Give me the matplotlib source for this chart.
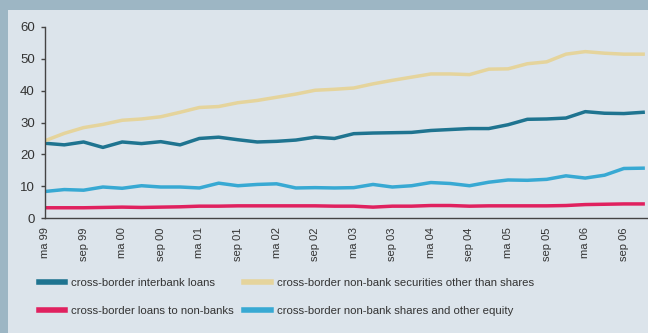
import numpy as np
import matplotlib.pyplot as plt
from matplotlib.patches import Rectangle

# quarterly data, March 1999 .. December 2006 (percentages)
interbank = [23.5, 23.0, 23.9, 22.2, 23.9, 23.4, 24.0, 23.0, 25.0, 25.4,
             24.6, 23.9, 24.1, 24.5, 25.4, 25.0, 26.5, 26.7, 26.8, 26.9,
             27.5, 27.8, 28.1, 28.1, 29.3, 31.0, 31.1, 31.4, 33.4, 32.9,
             32.8, 33.2]
securities = [24.3, 26.6, 28.4, 29.4, 30.7, 31.1, 31.8, 33.2, 34.7, 35.0,
              36.2, 36.9, 37.9, 38.9, 40.1, 40.4, 40.8, 42.1, 43.2, 44.2,
              45.2, 45.2, 45.0, 46.7, 46.8, 48.4, 49.0, 51.4, 52.2, 51.7,
              51.4, 51.4]
loans_nonbanks = [3.3, 3.3, 3.3, 3.4, 3.5, 3.4, 3.5, 3.6, 3.8, 3.8,
                  3.9, 3.9, 3.9, 3.9, 3.9, 3.8, 3.8, 3.5, 3.8, 3.8,
                  4.0, 4.0, 3.8, 3.9, 3.9, 3.9, 3.9, 4.0, 4.3, 4.4,
                  4.5, 4.5]
shares = [8.4, 9.0, 8.8, 9.8, 9.4, 10.2, 9.8, 9.8, 9.5, 11.0,
          10.2, 10.6, 10.8, 9.5, 9.6, 9.5, 9.6, 10.6, 9.8, 10.2,
          11.2, 10.9, 10.2, 11.3, 12.0, 11.9, 12.2, 13.3, 12.6, 13.5,
          15.6, 15.7]
tick_labels = ['ma 99', 'sep 99', 'ma 00', 'sep 00', 'ma 01', 'sep 01',
               'ma 02', 'sep 02', 'ma 03', 'sep 03', 'ma 04', 'sep 04',
               'ma 05', 'sep 05', 'ma 06', 'sep 06']

x = np.arange(len(interbank))

plt.rcParams['font.family'] = ['Liberation Sans', 'DejaVu Sans']
text_col = '#333333'

fig = plt.figure(figsize=(6.48, 3.33), dpi=100, facecolor='#9db6c4')
# light panel behind everything
panel = Rectangle((8 / 648, 0), 1, 1 - 10 / 333, transform=fig.transFigure,
                  facecolor='#dce4eb', edgecolor='none', zorder=-10)
fig.add_artist(panel)

ax = fig.add_axes([45 / 648, 114.7 / 333, 602 / 648, 191.6 / 333])
ax.set_facecolor('none')

l1, = ax.plot(x, interbank, color='#1f7490', lw=2.5, label='cross-border interbank loans')
l2, = ax.plot(x, securities, color='#e5d49c', lw=2.5,
              label='cross-border non-bank securities other than shares')
l3, = ax.plot(x, loans_nonbanks, color='#e0215f', lw=2.5,
              label='cross-border loans to non-banks')
l4, = ax.plot(x, shares, color='#38a9d3', lw=2.5,
              label='cross-border non-bank shares and other equity')

ax.set_xlim(0, 31.2)
ax.set_ylim(0, 60)
ax.set_yticks(range(0, 61, 10))
ax.set_xticks(np.arange(0, 32, 2))
ax.set_xticklabels(tick_labels, rotation=90, va='top', ha='center')

for s in ['top', 'right']:
    ax.spines[s].set_visible(False)
for s in ['left', 'bottom']:
    ax.spines[s].set_color('#444444')
    ax.spines[s].set_linewidth(1)

ax.tick_params(axis='y', length=3, width=1, color='#444444', pad=4.3,
               labelsize=9.5, labelcolor=text_col)
ax.tick_params(axis='x', length=0, pad=6.5, labelsize=8, labelcolor=text_col)

leg = fig.legend(handles=[l1, l3, l2, l4], ncol=2, frameon=False,
                 loc='upper left', bbox_to_anchor=(39 / 648, 0.165),
                 borderpad=0, borderaxespad=0, fontsize=8.2,
                 handlelength=2.3, handletextpad=0.55, columnspacing=0.9,
                 labelspacing=1.55)
for h in leg.get_lines():
    h.set_linewidth(4)
for t in leg.get_texts():
    t.set_color(text_col)

fig.savefig('out.png', dpi=100, facecolor=fig.get_facecolor())
